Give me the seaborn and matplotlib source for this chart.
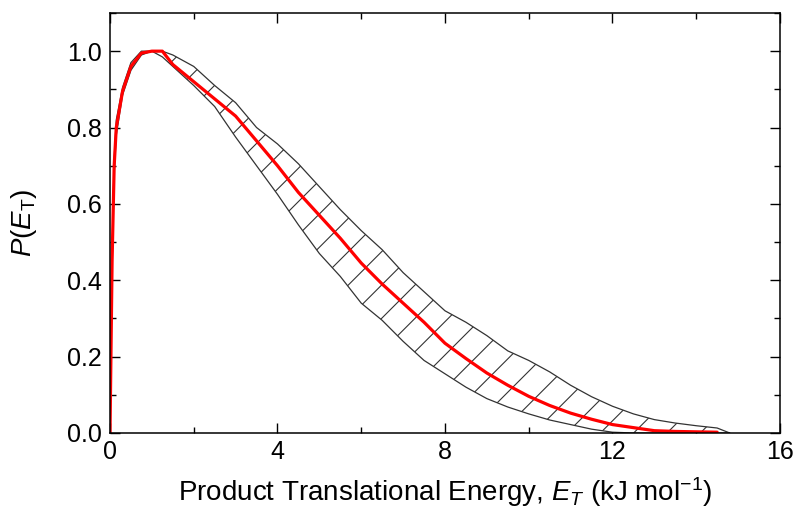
import numpy as np
import pandas as pd
import seaborn as sns
import matplotlib.pyplot as plt
from matplotlib.ticker import MultipleLocator

# energy grid (kJ/mol) and P(E_T)
energy = [0, 0.05, 0.1, 0.15, 0.3, 0.5, 0.75, 1.0, 1.25, 1.5, 2.0, 2.5, 3.0, 3.5,
          4.0, 4.5, 5.0, 5.5, 6.0, 6.5, 7.0, 7.5, 8.0, 8.5, 9.0, 9.5, 10.0, 10.5,
          11.0, 11.5, 12.0, 12.5, 13.0, 13.5, 14.0, 14.5, 14.8]
p_best = [0, 0.45, 0.70, 0.80, 0.895, 0.96, 0.995, 1.0, 1.0, 0.965, 0.92, 0.875,
          0.83, 0.765, 0.70, 0.63, 0.57, 0.51, 0.445, 0.39, 0.34, 0.29, 0.235,
          0.195, 0.157, 0.125, 0.096, 0.072, 0.052, 0.036, 0.022, 0.014, 0.006,
          0.004, 0.003, 0.002, 0.0]
p_upper = [0, 0.47, 0.72, 0.82, 0.905, 0.97, 1.0, 1.0, 1.0, 0.99, 0.96, 0.91,
           0.865, 0.80, 0.757, 0.705, 0.645, 0.585, 0.53, 0.48, 0.42, 0.37, 0.32,
           0.29, 0.255, 0.215, 0.19, 0.16, 0.125, 0.095, 0.07, 0.05, 0.035,
           0.026, 0.019, 0.013, 0.0]
p_lower = [0, 0.43, 0.68, 0.78, 0.885, 0.95, 0.99, 1.0, 0.985, 0.96, 0.91, 0.855,
           0.775, 0.70, 0.625, 0.545, 0.47, 0.41, 0.34, 0.295, 0.24, 0.19, 0.155,
           0.12, 0.09, 0.068, 0.05, 0.034, 0.022, 0.01, 0.002, 0, 0, 0, 0, 0, 0]

df = pd.DataFrame({"E": energy, "P": p_best, "hi": p_upper, "lo": p_lower})

sns.set_style("ticks")
plt.rcParams['font.family'] = ['Liberation Sans', 'DejaVu Sans']
plt.rcParams['mathtext.fontset'] = 'custom'
plt.rcParams['mathtext.rm'] = 'Liberation Sans'
plt.rcParams['mathtext.it'] = 'Liberation Sans:italic'
plt.rcParams['hatch.linewidth'] = 0.8
plt.rcParams['hatch.color'] = '#333333'

fig = plt.figure(figsize=(8.07, 5.13), dpi=100)
ax = fig.add_axes([0.1363, 0.156, 0.8302, 0.8187])

# hatched uncertainty band
ax.fill_between(df["E"], df["lo"], df["hi"], facecolor="white",
                edgecolor="#333333", hatch="/", linewidth=0)
ax.plot(df["E"], df["hi"], color="#333333", lw=0.9)
ax.plot(df["E"], df["lo"], color="#333333", lw=0.9)

# best fit
sns.lineplot(data=df[df["E"] <= 14.5], x="E", y="P", color="red", lw=2.3, ax=ax)

ax.set_xlim(0, 16)
ax.set_ylim(0, 1.1)
ax.xaxis.set_major_locator(MultipleLocator(4))
ax.xaxis.set_minor_locator(MultipleLocator(2))
ax.yaxis.set_minor_locator(MultipleLocator(0.1))
ax.set_yticks([0, 0.2, 0.4, 0.6, 0.8, 1.0])
ax.set_yticklabels(["0.0", "0.2", "0.4", "0.6", "0.8", "1.0"])
ax.tick_params(which="both", direction="in", top=True, right=True, labelsize=18,
               color="black", labelcolor="black")
ax.tick_params(axis="x", pad=5)
ax.tick_params(axis="y", pad=6)
ax.tick_params(which="major", length=7, width=1)
ax.tick_params(which="minor", length=4, width=1)
for s in ax.spines.values():
    s.set_linewidth(1.1)
    s.set_color("black")

ax.set_xlabel(r"Product Translational Energy, $E_T$ (kJ mol$^{-1}$)", fontsize=20,
              labelpad=8, color="black")
ax.set_ylabel(r"$P$($E_{\rm T}$)", fontsize=20, labelpad=20, color="black")

fig.savefig("out.png", dpi=100)
